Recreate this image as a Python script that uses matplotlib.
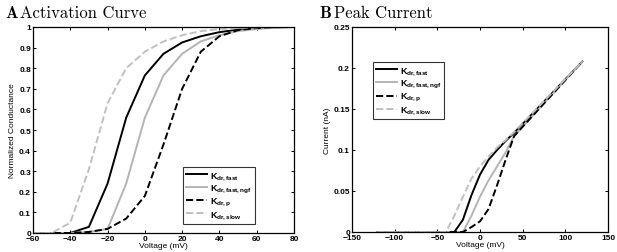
import matplotlib
matplotlib.use("Agg")
import matplotlib.pyplot as plt

plt.rcParams["font.family"] = "Liberation Sans"
plt.rcParams["font.weight"] = "bold"
plt.rcParams["mathtext.fontset"] = "custom"
plt.rcParams["mathtext.rm"] = "Liberation Sans:bold"
plt.rcParams["mathtext.it"] = "Liberation Sans:bold"
plt.rcParams["mathtext.bf"] = "Liberation Sans:bold"

# ---- panel A: activation curves ----
v_act = [-60, -50, -40, -30, -20, -10, 0, 10, 20, 30, 40, 50, 60, 70, 80]
g_fast = [0, 0, 0, 0.03, 0.24, 0.56, 0.765, 0.87, 0.925, 0.955, 0.975, 0.987, 0.994, 0.998, 1.0]
g_fast_ngf = [0, 0, 0, 0.005, 0.02, 0.24, 0.56, 0.765, 0.87, 0.93, 0.96, 0.98, 0.99, 0.997, 1.0]
g_p = [0, 0, 0, 0.005, 0.02, 0.07, 0.18, 0.43, 0.70, 0.88, 0.955, 0.985, 0.995, 1.0, 1.0]
g_slow = [0, 0.0, 0.05, 0.31, 0.63, 0.80, 0.88, 0.93, 0.96, 0.98, 0.99, 0.995, 0.998, 1.0, 1.0]

# ---- panel B: peak current ----
v_iv = [-120, -40, -30, -20, -10, 0, 10, 20, 30, 40, 120]
i_fast = [0, 0, 0.0, 0.015, 0.045, 0.07, 0.088, 0.1, 0.111, 0.121, 0.208]
i_fast_ngf = [0, 0, 0, 0.0, 0.02, 0.043, 0.063, 0.08, 0.097, 0.117, 0.208]
i_p = [0, 0, 0, 0.0, 0.006, 0.013, 0.028, 0.057, 0.088, 0.117, 0.208]
i_slow = [0, 0.0, 0.02, 0.043, 0.065, 0.08, 0.092, 0.103, 0.112, 0.122, 0.208]

labels = [r"$K_{dr,fast}$", r"$K_{dr,fast,ngf}$", r"$K_{dr,p}$", r"$K_{dr,slow}$"]
styles = [("black", "-"), ("#b4b4b4", "-"), ("black", "--"), ("#c0c0c0", "--")]

fig = plt.figure(figsize=(6.17, 2.53), dpi=100)
W, H = 617, 253
axA = fig.add_axes([33 / W, 1 - 234 / H, 261 / W, 206 / H])
axB = fig.add_axes([352 / W, 1 - 233 / H, 256 / W, 205 / H])


def style_axes(ax):
    ax.tick_params(direction="in", top=True, right=True, labelsize=6, length=2.5, width=0.7, pad=1.5)
    for s in ax.spines.values():
        s.set_linewidth(0.9)


def add_legend(ax, loc, anchor):
    leg = ax.legend(loc=loc, bbox_to_anchor=anchor, fontsize=6.5, frameon=True,
                    fancybox=False, edgecolor="black", handlelength=2.3, handletextpad=0.3,
                    borderaxespad=0, labelspacing=0.12, borderpad=0.35)
    leg.get_frame().set_linewidth(0.8)
    return leg


for ys, (c, ls), lab in zip([g_fast, g_fast_ngf, g_p, g_slow], styles, labels):
    axA.plot(v_act, ys, color=c, linestyle=ls, linewidth=1.4, label=lab)
axA.set_xlim(-60, 80)
axA.set_ylim(0, 1)
axA.set_xticks(range(-60, 81, 20))
axA.set_yticks([i / 10 for i in range(11)])
axA.set_yticklabels(["0"] + [f"{i / 10:g}" for i in range(1, 10)] + ["1"])
axA.set_xlabel("Voltage (mV)", fontsize=6, labelpad=0)
axA.set_ylabel("Normalized Conductance", fontsize=6, labelpad=2)
style_axes(axA)
add_legend(axA, "lower left", (0.575, 0.044))

for ys, (c, ls), lab in zip([i_fast, i_fast_ngf, i_p, i_slow], styles, labels):
    axB.plot(v_iv, ys, color=c, linestyle=ls, linewidth=1.4, label=lab)
axB.set_xlim(-150, 150)
axB.set_ylim(0, 0.25)
axB.set_xticks(range(-150, 151, 50))
axB.set_yticks([0, 0.05, 0.1, 0.15, 0.2, 0.25])
axB.set_yticklabels(["0", "0.05", "0.1", "0.15", "0.2", "0.25"])
axB.set_xlabel("Voltage (mV)", fontsize=6, labelpad=0)
axB.set_ylabel("Current (nA)", fontsize=6, labelpad=2)
style_axes(axB)
add_legend(axB, "upper left", (0.082, 0.83))

fig.text(5 / W, 1 - 18 / H, "A", fontfamily="cmb10", fontsize=12, weight="bold")
fig.text(20 / W, 1 - 18 / H, "Activation Curve", fontfamily="cmr10", fontsize=12)
fig.text(319 / W, 1 - 18 / H, "B", fontfamily="cmb10", fontsize=12, weight="bold")
fig.text(334 / W, 1 - 18 / H, "Peak Current", fontfamily="cmr10", fontsize=12)

fig.savefig("out.png", dpi=100)
